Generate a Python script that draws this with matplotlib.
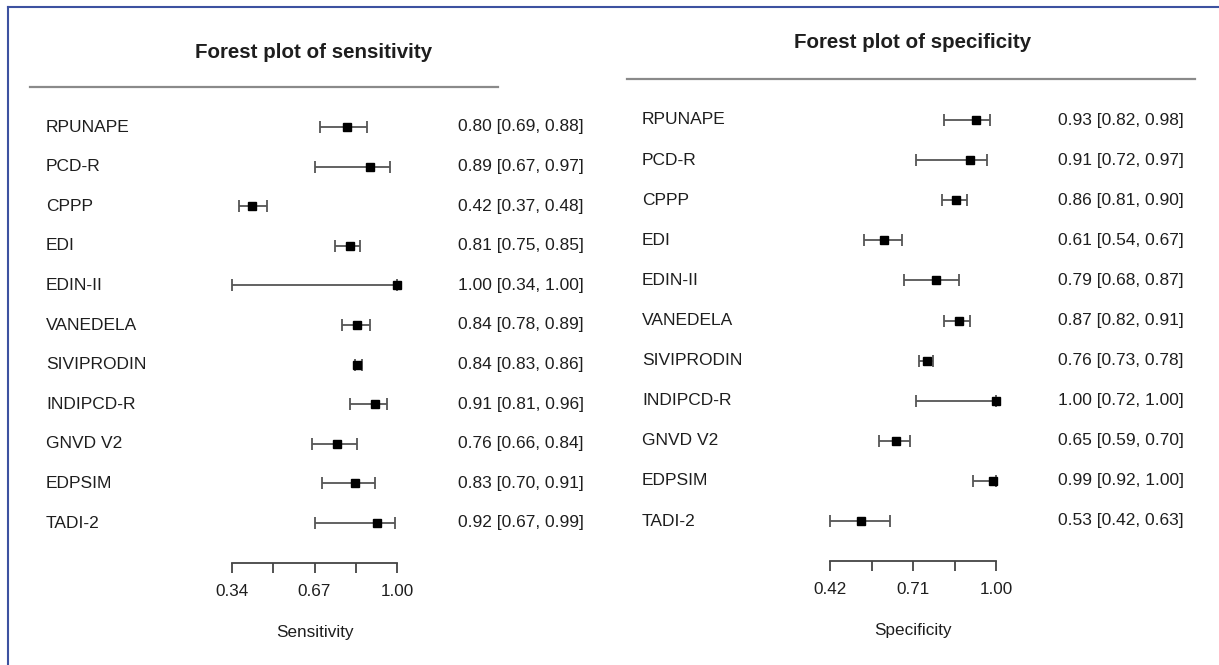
import matplotlib.pyplot as plt
from matplotlib.lines import Line2D
from matplotlib.transforms import blended_transform_factory

plt.rcParams['font.family'] = ['Liberation Sans', 'DejaVu Sans']

# Sensitivity data
sens_names = ['RPUNAPE', 'PCD-R', 'CPPP', 'EDI', 'EDIN-II', 'VANEDELA',
              'SIVIPRODIN', 'INDIPCD-R', 'GNVD V2', 'EDPSIM', 'TADI-2']
sens_est = [0.80, 0.89, 0.42, 0.81, 1.00, 0.84, 0.84, 0.91, 0.76, 0.83, 0.92]
sens_lo = [0.69, 0.67, 0.37, 0.75, 0.34, 0.78, 0.83, 0.81, 0.66, 0.70, 0.67]
sens_hi = [0.88, 0.97, 0.48, 0.85, 1.00, 0.89, 0.86, 0.96, 0.84, 0.91, 0.99]
sens_ticks = [0.34, 0.505, 0.67, 0.835, 1.00]
sens_ticklabels = ['0.34', '', '0.67', '', '1.00']

# Specificity data
spec_names = ['RPUNAPE', 'PCD-R', 'CPPP', 'EDI', 'EDIN-II', 'VANEDELA',
              'SIVIPRODIN', 'INDIPCD-R', 'GNVD V2', 'EDPSIM', 'TADI-2']
spec_est = [0.93, 0.91, 0.86, 0.61, 0.79, 0.87, 0.76, 1.00, 0.65, 0.99, 0.53]
spec_lo = [0.82, 0.72, 0.81, 0.54, 0.68, 0.82, 0.73, 0.72, 0.59, 0.92, 0.42]
spec_hi = [0.98, 0.97, 0.90, 0.67, 0.87, 0.91, 0.78, 1.00, 0.70, 1.00, 0.63]
spec_ticks = [0.42, 0.565, 0.71, 0.855, 1.00]
spec_ticklabels = ['0.42', '', '0.71', '', '1.00']

W, H = 1219, 665
fig = plt.figure(figsize=(W / 100, H / 100), dpi=100)
txt = '#1e1e1e'


def fx(px):
    return px / W


def fy(py):
    return 1 - py / H


def panel(names, est, lo, hi, ticks, ticklabels, title, xlabel,
          x0, x1, v0, v1, row0, step, line_y, axis_y, title_x, title_y,
          label_x, val_x, rule_x0, rule_x1, xlabel_y):
    n = len(names)
    ax = fig.add_axes([fx(x0), fy(axis_y), fx(x1 - x0), (axis_y - line_y) / H])
    ax.set_xlim(v0, v1)
    top = (line_y - row0) / step
    bot = (axis_y - row0) / step
    ax.set_ylim(bot, top)
    rows = list(range(n))
    xerr = [[e - l for e, l in zip(est, lo)], [h - e for e, h in zip(est, hi)]]
    ax.errorbar(est, rows, xerr=xerr, fmt='none', ecolor='#555555',
                elinewidth=1.3, capsize=4, capthick=1.3, clip_on=False)
    ax.plot(est, rows, 's', color='black', markersize=6, clip_on=False)
    for s in ['top', 'left', 'right']:
        ax.spines[s].set_visible(False)
    ax.spines['bottom'].set_bounds(v0, v1)
    ax.spines['bottom'].set_color('#444444')
    ax.spines['bottom'].set_linewidth(1.3)
    ax.set_yticks([])
    ax.set_xticks(ticks)
    ax.set_xticklabels(ticklabels)
    ax.tick_params(axis='x', direction='out', length=7, width=1.3,
                   color='#444444', labelsize=12.3, labelcolor=txt, pad=8)
    ax.patch.set_alpha(0)

    tr = blended_transform_factory(fig.transFigure, ax.transData)
    for i in rows:
        ax.text(fx(label_x), i, names[i], transform=tr, ha='left', va='center',
                fontsize=12.5, color=txt)
        ax.text(fx(val_x), i, f'{est[i]:.2f} [{lo[i]:.2f}, {hi[i]:.2f}]',
                transform=tr, ha='left', va='center', fontsize=12.5, color=txt)

    fig.text(fx(title_x), fy(title_y), title, ha='center',
             va='baseline', fontsize=14.8, fontweight='bold', color=txt)
    fig.add_artist(Line2D([fx(rule_x0), fx(rule_x1)], [fy(line_y), fy(line_y)],
                          color='#8a8a8a', lw=1.6))
    fig.text(fx((x0 + x1) / 2), fy(xlabel_y), xlabel, ha='center',
             va='center', fontsize=12.3, color=txt)


panel(sens_names, sens_est, sens_lo, sens_hi, sens_ticks, sens_ticklabels,
      'Forest plot of sensitivity', 'Sensitivity',
      x0=232, x1=397, v0=0.34, v1=1.00, row0=127, step=39.6,
      line_y=87, axis_y=563, title_x=314, title_y=58, label_x=46, val_x=458,
      rule_x0=30, rule_x1=498, xlabel_y=633)

panel(spec_names, spec_est, spec_lo, spec_hi, spec_ticks, spec_ticklabels,
      'Forest plot of specificity', 'Specificity',
      x0=830, x1=996, v0=0.42, v1=1.00, row0=120, step=40.1,
      line_y=79, axis_y=561, title_x=913, title_y=48, label_x=642, val_x=1058,
      rule_x0=627, rule_x1=1195, xlabel_y=631)

# blue frame (top and left)
frame = '#3d52a0'
fig.add_artist(Line2D([fx(8), fx(8)], [fy(7), 0], color=frame, lw=1.5))
fig.add_artist(Line2D([fx(8), 1], [fy(7), fy(7)], color=frame, lw=1.5))

fig.savefig('out.png', dpi=100, facecolor='white')
